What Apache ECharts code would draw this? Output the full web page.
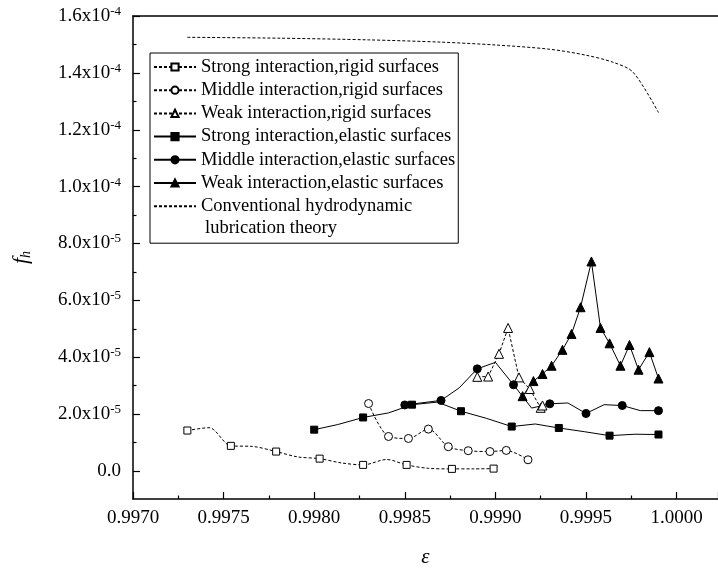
<!DOCTYPE html>
<html><head><meta charset="utf-8">
<script src="https://cdn.jsdelivr.net/npm/echarts@6/dist/echarts.min.js"></script>
<style>html,body{margin:0;padding:0;background:#fff}#c{width:718px;height:569px}</style>
</head><body><div id="c"></div>
<script>
const seriesNames = [
  'Strong interaction,rigid surfaces',
  'Middle interaction,rigid surfaces',
  'Weak interaction,rigid surfaces',
  'Strong interaction,elastic surfaces',
  'Middle interaction,elastic surfaces',
  'Weak interaction,elastic surfaces',
  'Conventional hydrodynamic lubrication theory'
];
const strongRigidEps = [0.99730,0.99742,0.99754,0.99766,0.99779,0.99791,0.99803,0.99815,0.99827,0.99840,0.99851,0.99863,0.99876,0.99888,0.99899];
const strongRigidVal = [1.41e-5,1.51e-5,0.87e-5,0.85e-5,0.67e-5,0.48e-5,0.42e-5,0.27e-5,0.20e-5,0.39e-5,0.20e-5,0.08e-5,0.06e-5,0.06e-5,0.07e-5];
const middleRigidEps = [0.99830,0.99841,0.99852,0.99863,0.99874,0.99885,0.99897,0.99906,0.99918];
const middleRigidVal = [2.36e-5,1.20e-5,1.13e-5,1.46e-5,0.84e-5,0.70e-5,0.67e-5,0.71e-5,0.38e-5];
const weakRigidEps = [0.99890,0.99896,0.99902,0.99907,0.99913,0.99919,0.99925,0.99926];
const weakRigidVal = [3.30e-5,3.31e-5,4.11e-5,5.02e-5,3.28e-5,2.87e-5,2.21e-5,2.29e-5];
const strongElasticEps = [0.99800,0.99813,0.99827,0.99841,0.99854,0.99868,0.99881,0.99895,0.99909,0.99922,0.99935,0.99949,0.99963,0.99977,0.99990];
const strongElasticVal = [1.44e-5,1.62e-5,1.87e-5,2.03e-5,2.32e-5,2.41e-5,2.09e-5,1.84e-5,1.55e-5,1.64e-5,1.50e-5,1.37e-5,1.23e-5,1.28e-5,1.27e-5];
const middleElasticEps = [0.99850,0.99860,0.99870,0.99880,0.99890,0.99900,0.99910,0.99920,0.99930,0.99940,0.99950,0.99960,0.99970,0.99980,0.99990];
const middleElasticVal = [2.31e-5,2.39e-5,2.47e-5,2.91e-5,3.58e-5,3.81e-5,3.02e-5,2.20e-5,2.35e-5,2.38e-5,2.01e-5,2.32e-5,2.29e-5,2.11e-5,2.11e-5];
const weakElasticEps = [0.99915,0.99921,0.99926,0.99931,0.99937,0.99942,0.99947,0.99953,0.99958,0.99963,0.99969,0.99974,0.99979,0.99985,0.99990];
const weakElasticVal = [2.62e-5,3.15e-5,3.40e-5,3.69e-5,4.25e-5,4.81e-5,5.75e-5,7.36e-5,5.02e-5,4.48e-5,3.69e-5,4.42e-5,3.55e-5,4.17e-5,3.24e-5];
const convEps = [0.99730,0.99780,0.99830,0.99870,0.99900,0.99930,0.99950,0.99965,0.99976,0.99990];
const convVal = [1.525e-4,1.522e-4,1.516e-4,1.508e-4,1.498e-4,1.483e-4,1.462e-4,1.437e-4,1.402e-4,1.26e-4];

const X_MIN = 0.997, X_MAX = 1.0002285, X_STEP = 0.0005;
const FONT = 'Liberation Serif';
const chart = echarts.init(document.getElementById('c'), null, {renderer: 'canvas'});

function mk(name, eps, vals, symbol, size, fill, dashed, every, smooth) {
  const data = eps.map((e, i) => (i % every === 0) ? [e, vals[i]] : {value: [e, vals[i]], symbol: 'none'});
  return {
    type: 'line', name, data, xAxisIndex: 0, yAxisIndex: 0,
    symbol, symbolSize: size, showSymbol: true, showAllSymbol: true, smooth: smooth,
    itemStyle: {color: fill, borderColor: '#000', borderWidth: 1},
    lineStyle: {color: '#000', width: 1, type: dashed ? [3, 2] : 'solid'},
    emphasis: {disabled: true}, silent: true, clip: false, z: 3
  };
}

const series = [
  mk(seriesNames[0], strongRigidEps, strongRigidVal, 'rect', 7, '#fff', true, 2, 0.3),
  mk(seriesNames[1], middleRigidEps, middleRigidVal, 'circle', 8, '#fff', true, 1, 0.3),
  mk(seriesNames[2], weakRigidEps, weakRigidVal, 'triangle', 9, '#fff', true, 1, false),
  mk(seriesNames[3], strongElasticEps, strongElasticVal, 'rect', 7, '#000', false, 2, false),
  mk(seriesNames[4], middleElasticEps, middleElasticVal, 'circle', 8, '#000', false, 2, false),
  mk(seriesNames[5], weakElasticEps, weakElasticVal, 'triangle', 9, '#000', false, 1, false),
  {
    type: 'line', name: seriesNames[6], data: convEps.map((e, i) => [e, convVal[i]]),
    xAxisIndex: 0, yAxisIndex: 0, symbol: 'none', smooth: 0.3,
    itemStyle: {color: '#000'},
    lineStyle: {color: '#000', width: 1, type: [3, 2]},
    emphasis: {disabled: true}, silent: true, z: 3
  }
];

function yLabel(v) {
  if (Math.abs(v) < 1e-12) return '0.0';
  let ex = Math.floor(Math.log10(v) + 1e-9);
  let m = v / Math.pow(10, ex);
  if (m >= 9.95) { m /= 10; ex += 1; }
  return m.toFixed(1) + 'x10{s|' + ex + '}';
}

const option = {
  animation: false,
  backgroundColor: '#fff',
  grid: [
    {left: 133, top: 16, right: 0, bottom: 70, outerBoundsMode: 'none', containLabel: false},
    {left: 133, top: 16, right: 0, bottom: 98, outerBoundsMode: 'none', containLabel: false}
  ],
  xAxis: [
    {
      type: 'value', gridIndex: 0, min: X_MIN, max: X_MAX, interval: X_STEP,
      axisLine: {show: true, onZero: false, lineStyle: {color: '#000', width: 1.5}},
      axisTick: {show: true, inside: true, length: 7, lineStyle: {color: '#000', width: 1.2}},
      minorTick: {show: true, splitNumber: 2, length: 3.5, lineStyle: {color: '#000', width: 1.2}},
      splitLine: {show: false}, minorSplitLine: {show: false},
      axisLabel: {
        margin: 10, color: '#000', fontFamily: FONT, fontSize: 19,
        formatter: v => { const k = v / X_STEP; return Math.abs(k - Math.round(k)) < 1e-6 ? v.toFixed(4) : ''; }
      },
      name: 'ε', nameLocation: 'middle', nameGap: 48,
      nameTextStyle: {fontFamily: FONT, fontStyle: 'italic', fontSize: 21, color: '#000'}
    },
    {
      type: 'value', gridIndex: 0, position: 'top', min: X_MIN, max: X_MAX,
      axisLine: {show: true, onZero: false, lineStyle: {color: '#000', width: 1.5}},
      axisTick: {show: false}, axisLabel: {show: false}, splitLine: {show: false}
    },
    {type: 'value', gridIndex: 1, min: X_MIN, max: X_MAX, show: false}
  ],
  yAxis: [
    {
      type: 'value', gridIndex: 0, min: -1e-5, max: 1.6e-4,
      axisLine: {show: true, onZero: false, lineStyle: {color: '#000', width: 1.5}},
      axisTick: {show: false}, axisLabel: {show: false}, splitLine: {show: false},
      name: '{f|f}{h|h}', nameLocation: 'middle', nameGap: 100,
      nameTextStyle: {
        color: '#000', fontFamily: FONT, fontStyle: 'italic', fontSize: 21,
        rich: {
          f: {fontFamily: FONT, fontStyle: 'italic', fontSize: 22, color: '#000', lineHeight: 24},
          h: {fontFamily: FONT, fontStyle: 'italic', fontSize: 14, color: '#000', verticalAlign: 'bottom', lineHeight: 24, padding: [6, 0, 0, 0]}
        }
      }
    },
    {
      type: 'value', gridIndex: 1, min: 0, max: 1.6e-4, interval: 2e-5,
      axisLine: {show: false},
      axisTick: {show: true, inside: true, length: 7, lineStyle: {color: '#000', width: 1.2}},
      minorTick: {show: true, splitNumber: 2, length: 3.5, lineStyle: {color: '#000', width: 1.2}},
      splitLine: {show: false}, minorSplitLine: {show: false},
      axisLabel: {
        margin: 12, color: '#000', fontFamily: FONT, fontSize: 19, lineHeight: 22,
        formatter: yLabel,
        rich: {s: {fontFamily: FONT, fontSize: 13, color: '#000', verticalAlign: 'top', lineHeight: 15}}
      }
    }
  ],
  legend: {
    orient: 'vertical', left: 150, top: 53,
    itemWidth: 42, itemHeight: 9, itemGap: 3.2,
    padding: [4, 3, 27, 3],
    borderColor: '#000', borderWidth: 1, backgroundColor: '#fff',
    selectedMode: false,
    textStyle: {fontFamily: FONT, fontSize: 18.5, color: '#000', lineHeight: 20},
    formatter: n => n === seriesNames[6] ? 'Conventional hydrodynamic' : n,
    data: seriesNames.map((n, i) => i === 6 ? {name: n, itemStyle: {opacity: 0}} : {name: n})
  },
  graphic: [
    {type: 'text', left: 205, top: 219, z: 100,
     style: {text: 'lubrication theory', fontFamily: FONT, fontSize: 18.5, fill: '#000'}}
  ],
  series
};
chart.setOption(option);
</script>
</body></html>
